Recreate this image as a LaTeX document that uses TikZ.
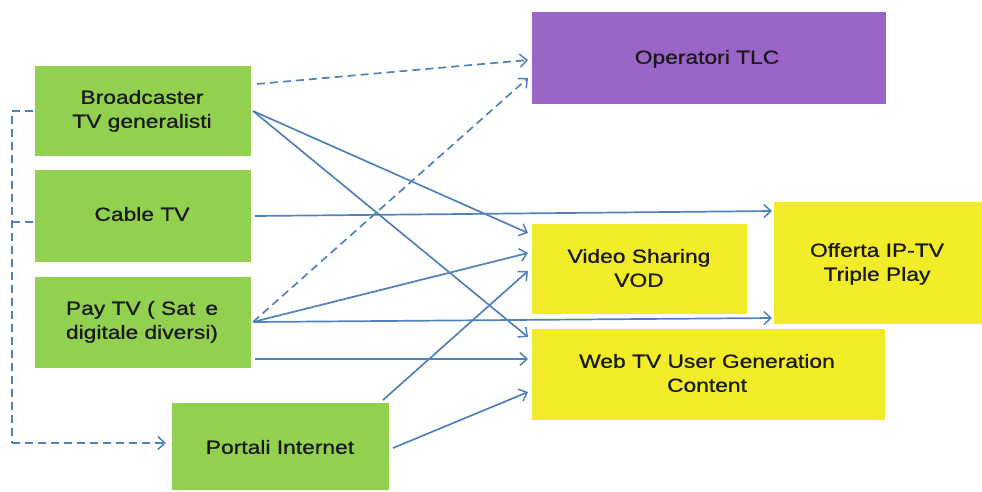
\documentclass[tikz,border=0pt]{standalone}
\usepackage{fontspec}
\usepackage{graphicx}
\setmainfont{Liberation Sans}
\newfontfamily\lblfont{Liberation Sans}[FakeBold=0.8]
\usetikzlibrary{arrows.meta}
\definecolor{boxgreen}{HTML}{92D050}
\definecolor{boxpurple}{HTML}{9966C8}
\definecolor{boxyellow}{HTML}{F2EC28}
\definecolor{linkblue}{HTML}{4F81BD}
% wide label text, set in a centred column and stretched sideways
\newcommand\widelabel[1]{\scalebox{1.2}[1]{\begin{tabular}{@{}c@{}}#1\end{tabular}}}
\begin{document}
\begin{tikzpicture}[x=1pt,y=-1pt,
  box/.style={inner sep=0pt, align=center, font=\lblfont\fontsize{19}{24}\selectfont, text=black!90},
  link/.style={draw=linkblue, line width=1.7pt, -{Straight Barb[length=7pt,width=13pt,line width=1.5pt]}},
  dlink/.style={link, dash pattern=on 8pt off 5pt},
  dline/.style={draw=linkblue, line width=1.7pt, dash pattern=on 8pt off 5pt}]
\useasboundingbox (0,0) rectangle (982,491);

% source boxes
\fill[boxgreen] (35,66) rectangle (251,156);
\node[box] (bro) at (142,111) {\widelabel{Broadcaster\\TV generalisti}};
\fill[boxgreen] (35,170) rectangle (251,262);
\node[box] (cab) at (142,216) {\widelabel{Cable TV}};
\fill[boxgreen] (35,277) rectangle (251,368);
\node[box] (pay) at (142,322) {\widelabel{Pay TV ( Sat\, e\\digitale diversi)}};
\fill[boxgreen] (172,403) rectangle (389,490);
\node[box] (por) at (280,449) {\widelabel{Portali Internet}};

% target boxes
\fill[boxpurple] (532,12) rectangle (886,104);
\node[box] (tlc) at (707,59) {\widelabel{Operatori TLC}};
\fill[boxyellow] (532,224) rectangle (747,314);
\node[box] (vod) at (639,270) {\widelabel{Video Sharing\\VOD}};
\fill[boxyellow] (532,329) rectangle (885,420);
\node[box] (web) at (707,375) {\widelabel{Web TV User Generation\\Content}};
\fill[boxyellow] (774,202) rectangle (982,324);
\node[box] (iptv) at (877,264) {\widelabel{Offerta IP-TV\\Triple Play}};

% anchor points on the boxes
\coordinate (broA) at (257,84);
\coordinate (broB) at (253,111);
\coordinate (cabA) at (255,216);
\coordinate (payA) at (253,322);
\coordinate (payB) at (255,359);
\coordinate (porA) at (383,400);
\coordinate (porB) at (393,448);
\coordinate (tlcA) at (528,60);
\coordinate (tlcB) at (528,78);
\coordinate (vodA) at (528,233);
\coordinate (vodB) at (528,253);
\coordinate (vodC) at (528,271);
\coordinate (webA) at (528,337);
\coordinate (webB) at (528,359);
\coordinate (webC) at (528,392);
\coordinate (ipA) at (772,211);
\coordinate (ipB) at (772,318);

% connectors
\draw[dlink] (broA) -- (tlcA);
\draw[dlink] (payA) -- (tlcB);
\draw[link] (broB) -- (vodA);
\draw[link] (broB) -- (webA);
\draw[link] (cabA) -- (ipA);
\draw[link] (payA) -- (vodB);
\draw[link] (payA) -- (ipB);
\draw[link] (payB) -- (webB);
\draw[link] (porA) -- (vodC);
\draw[link] (porB) -- (webC);

% dashed bracket on the left
\coordinate (brL) at (33,111);
\coordinate (cbL) at (33,222);
\coordinate (corner) at (12,443);
\coordinate (porL) at (166,443);
\draw[dline] (brL) -- (12,111) -- (corner);
\draw[dline] (cbL) -- (12,222);
\draw[dlink] (corner) -- (porL);
\end{tikzpicture}
\end{document}
